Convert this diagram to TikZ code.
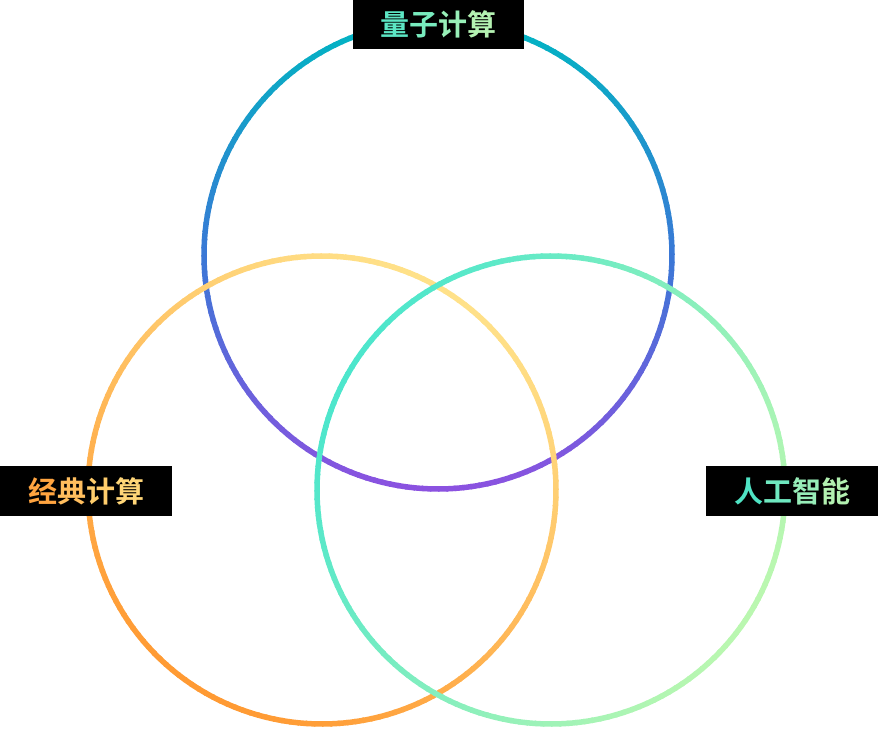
\documentclass[tikz,border=0pt]{standalone}
\usepackage{fontspec}
\newfontfamily\cjk{Noto Sans CJK SC}[BoldFont={Noto Sans CJK SC Bold}]
\definecolor{qa}{HTML}{00B6C2}
\definecolor{qb}{HTML}{3A78D6}
\definecolor{qc}{HTML}{8B52E0}
\definecolor{ly}{HTML}{FFE189}
\definecolor{lo}{HTML}{FF9A33}
\definecolor{rt}{HTML}{4DE6CC}
\definecolor{rg}{HTML}{BAF7B0}
\tikzset{
  ring/.style={line width=5.5pt, line cap=butt},
  labelbox/.style={fill=black, inner sep=0pt, minimum width=171pt, minimum height=50pt,
    font=\cjk\bfseries\fontsize{29}{31}\selectfont},
}
\begin{document}
\begin{tikzpicture}[x=1pt,y=1pt]
\useasboundingbox (0,0) rectangle (878,729);
% top circle: vertical gradient teal -> blue -> purple
\coordinate (ctop) at (438,474);
\foreach \a in {0,2,...,358}{
  \pgfmathsetmacro\t{(1-sin(\a+1))/2}
  \pgfmathsetmacro\pa{min(1,2*\t)*100}
  \pgfmathsetmacro\pb{max(0,2*\t-1)*100}
  \colorlet{segc}{qb!\pa!qa}
  \colorlet{segc}{qc!\pb!segc}
  \draw[ring, segc] ([shift={(\a:234pt)}]ctop) arc[start angle=\a, end angle=\a+2.4, radius=234pt];
}
% left circle: yellow (upper right) -> orange (lower left)
\coordinate (cleft) at (322,239);
\foreach \a in {0,2,...,358}{
  \pgfmathsetmacro\t{(1-cos(\a+1-60))/2*100}
  \colorlet{segc}{lo!\t!ly}
  \draw[ring, segc] ([shift={(\a:234pt)}]cleft) arc[start angle=\a, end angle=\a+2.4, radius=234pt];
}
% right circle: teal (upper left) -> light green (lower right)
\coordinate (cright) at (551,239);
\foreach \a in {0,2,...,358}{
  \pgfmathsetmacro\t{(1-cos(\a+1-150))/2*100}
  \colorlet{segc}{rg!\t!rt}
  \draw[ring, segc] ([shift={(\a:234pt)}]cright) arc[start angle=\a, end angle=\a+2.4, radius=234pt];
}
% labels
\node[labelbox, minimum height=49pt] (quantum) at (438.5,704.5)
  {\textcolor[HTML]{5CE6C4}{量}\textcolor[HTML]{78EBBE}{子}\textcolor[HTML]{98EFB8}{计}\textcolor[HTML]{B4F2B2}{算}};
\node[labelbox, minimum width=172pt] (classic) at (86,238)
  {\textcolor[HTML]{FFA440}{经}\textcolor[HTML]{FFBE5E}{典}\textcolor[HTML]{FFCD6C}{计}\textcolor[HTML]{FFD678}{算}};
\node[labelbox, minimum width=172pt] (ai) at (792,238)
  {\textcolor[HTML]{4FE3C4}{人}\textcolor[HTML]{6FE8C0}{工}\textcolor[HTML]{97EDB8}{智}\textcolor[HTML]{B2F0B0}{能}};
\end{tikzpicture}
\end{document}
